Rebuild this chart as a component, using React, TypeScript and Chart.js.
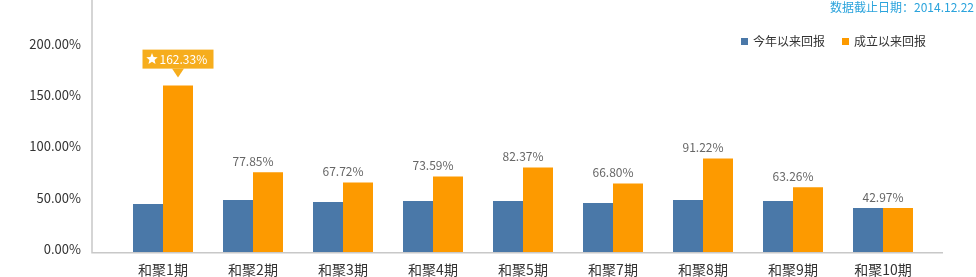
import React, { useEffect, useRef } from "react";
import { Chart, registerables } from "chart.js";

Chart.register(...registerables);

const categories = ["和聚1期", "和聚2期", "和聚3期", "和聚4期", "和聚5期", "和聚7期", "和聚8期", "和聚9期", "和聚10期"];
const ytdReturns = [46.8, 50.7, 48.8, 49.8, 49.8, 47.8, 50.7, 49.8, 42.97];
const inceptionReturns = [162.33, 77.85, 67.72, 73.59, 82.37, 66.8, 91.22, 63.26, 42.97];
const seriesNames = ["今年以来回报", "成立以来回报"];
const yTicks = [0, 50, 100, 150, 200];
const dateNote = "数据截止日期：2014.12.22";

const BLUE = "#4a78a8";
const ORANGE = "#fd9a00";
const FONT = "'Noto Sans CJK SC', 'Noto Sans', sans-serif";

const axisLines = {
  id: "axisLines",
  beforeDatasetsDraw(chart: any) {
    const { ctx, chartArea } = chart;
    const x0 = chartArea.left - 26;
    ctx.save();
    ctx.strokeStyle = "#c8c8c8";
    ctx.lineWidth = 1.5;
    ctx.beginPath();
    ctx.moveTo(x0, 0);
    ctx.lineTo(x0, chartArea.bottom + 0.75);
    ctx.lineTo(chartArea.right + 15, chartArea.bottom + 0.75);
    ctx.stroke();
    ctx.restore();
  },
};

function drawStar(ctx: CanvasRenderingContext2D, cx: number, cy: number, r: number) {
  ctx.beginPath();
  for (let i = 0; i < 10; i++) {
    const rad = i % 2 === 0 ? r : r * 0.45;
    const a = -Math.PI / 2 + (i * Math.PI) / 5;
    const px = cx + rad * Math.cos(a);
    const py = cy + rad * Math.sin(a);
    if (i === 0) ctx.moveTo(px, py);
    else ctx.lineTo(px, py);
  }
  ctx.closePath();
  ctx.fill();
}

const valueLabels = {
  id: "valueLabels",
  afterDatasetsDraw(chart: any) {
    const { ctx } = chart;
    const xScale = chart.scales.x;
    const meta = chart.getDatasetMeta(1);
    const data = chart.data.datasets[1].data as number[];
    let maxIdx = 0;
    data.forEach((v, i) => {
      if (v > data[maxIdx]) maxIdx = i;
    });
    ctx.save();
    ctx.font = `12px ${FONT}`;
    ctx.textBaseline = "middle";
    data.forEach((v, i) => {
      const bar = meta.data[i];
      const text = v.toFixed(2) + "%";
      if (i === maxIdx) {
        const cx = bar.x;
        const boxBottom = bar.y - 17;
        const boxTop = boxBottom - 19;
        const boxW = 71;
        const left = cx - boxW / 2;
        ctx.fillStyle = "#f6ad1d";
        ctx.fillRect(left, boxTop, boxW, 19);
        ctx.beginPath();
        ctx.moveTo(cx - 6, boxBottom);
        ctx.lineTo(cx + 6, boxBottom);
        ctx.lineTo(cx, bar.y - 8);
        ctx.closePath();
        ctx.fill();
        ctx.fillStyle = "#ffffff";
        drawStar(ctx, left + 9.5, boxTop + 9.5, 6);
        ctx.textAlign = "left";
        ctx.fillText(text, left + 17, boxTop + 10);
      } else {
        ctx.fillStyle = "#666666";
        ctx.textAlign = "center";
        ctx.fillText(text, xScale.getPixelForValue(i), bar.y - 11);
      }
    });
    ctx.restore();
  },
};

export default function App() {
  const ref = useRef<HTMLCanvasElement | null>(null);

  useEffect(() => {
    if (!ref.current) return;
    const chart = new Chart(ref.current, {
      type: "bar",
      data: {
        labels: categories,
        datasets: [
          { label: seriesNames[0], data: ytdReturns, backgroundColor: BLUE },
          { label: seriesNames[1], data: inceptionReturns, backgroundColor: ORANGE },
        ],
      },
      options: {
        responsive: false,
        animation: false,
        events: [],
        layout: { padding: { top: 47, right: 48, left: 0, bottom: 0 } },
        datasets: { bar: { categoryPercentage: 2 / 3, barPercentage: 1 } },
        plugins: { legend: { display: false }, tooltip: { enabled: false } },
        scales: {
          x: {
            grid: { display: false, drawTicks: false },
            border: { display: false },
            ticks: {
              color: "#333333",
              font: { size: 14, family: FONT },
              padding: 9,
              maxRotation: 0,
              autoSkip: false,
            },
            afterFit(scale: any) {
              scale.height = 25;
              scale.paddingLeft = 0;
              scale.paddingRight = 0;
            },
          },
          y: {
            min: 0,
            max: 200,
            grid: { display: false, drawTicks: false },
            border: { display: false },
            afterBuildTicks(scale: any) {
              scale.ticks = yTicks.map((v) => ({ value: v }));
            },
            ticks: {
              color: "#333333",
              font: { size: 13, family: FONT },
              padding: 37,
              labelOffset: -3,
              callback: (v: any) => Number(v).toFixed(2) + "%",
            },
            afterFit(scale: any) {
              scale.width = 118;
              scale.paddingTop = 0;
              scale.paddingBottom = 0;
            },
          },
        },
      },
      plugins: [axisLines, valueLabels],
    });
    return () => chart.destroy();
  }, []);

  const legendText: React.CSSProperties = {
    position: "absolute",
    top: 32,
    font: `12px ${FONT}`,
    color: "#333",
    lineHeight: "18px",
    whiteSpace: "nowrap",
  };
  const sq = (left: number, color: string): React.CSSProperties => ({
    position: "absolute",
    left,
    top: 38,
    width: 7,
    height: 7,
    background: color,
  });

  return (
    <div style={{ position: "absolute", left: 0, top: 0, width: 976, height: 277, background: "#fff", overflow: "hidden" }}>
      <canvas ref={ref} width={976} height={277} style={{ display: "block" }} />
      <div
        style={{
          position: "absolute",
          left: 830,
          top: -2,
          font: `12px ${FONT}`,
          color: "#2aa3dc",
          lineHeight: "18px",
          whiteSpace: "nowrap",
        }}
      >
        {dateNote}
      </div>
      <div style={sq(741, BLUE)} />
      <div style={{ ...legendText, left: 753 }}>{seriesNames[0]}</div>
      <div style={sq(842, ORANGE)} />
      <div style={{ ...legendText, left: 854 }}>{seriesNames[1]}</div>
    </div>
  );
}
